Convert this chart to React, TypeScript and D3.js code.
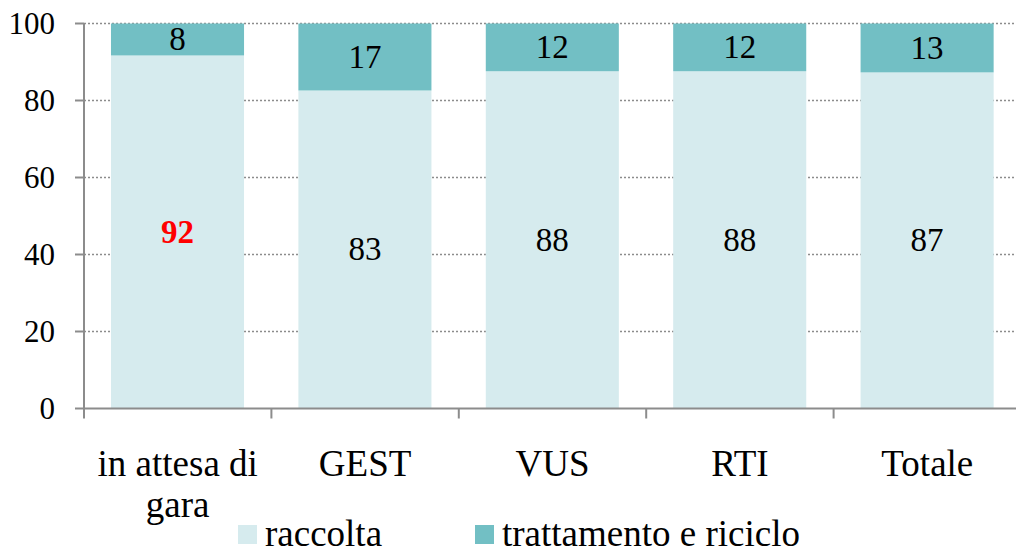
import React from "react";
import * as d3 from "d3";

const categories = ["in attesa di gara", "GEST", "VUS", "RTI", "Totale"];
const categoryLines = [["in attesa di", "gara"], ["GEST"], ["VUS"], ["RTI"], ["Totale"]];
const raccolta = [91.7, 82.6, 87.6, 87.6, 87.3];
const trattamento = [8.3, 17.4, 12.4, 12.4, 12.7];
const yTicks = [0, 20, 40, 60, 80, 100];
const seriesNames = ["raccolta", "trattamento e riciclo"];
const colors = ["#d6ebee", "#72bfc4"];

const W = 1016, H = 550;
const left = 84, right = 1021, top = 23.5, bottom = 408.5;
const FONT = "'Liberation Serif', 'Times New Roman', serif";

export default function App() {
  const x = d3.scaleBand<string>().domain(categories).range([left, right]).paddingInner(0).paddingOuter(0);
  const y = d3.scaleLinear().domain([0, 100]).range([bottom, top]);
  const step = x.step();
  const barOff = step * 0.144;
  const barW = step * 0.71;
  const stacked = categories.map((c, i) => ({ c, r: raccolta[i], t: trattamento[i] }));
  const st = (fs: number) => ({ fontFamily: FONT, fontSize: fs } as React.CSSProperties);
  return (
    <svg width={W} height={H} style={{ position: "absolute", left: 0, top: 0, background: "#fff", fontFamily: FONT }}>
      {yTicks.filter((t) => t > 0).map((t) => (
        <line key={"g" + t} x1={left} x2={right} y1={y(t)} y2={y(t)} stroke="#8c8c8c" strokeWidth={1.5} strokeDasharray="2,2" />
      ))}
      {stacked.map((d, i) => {
        const x0 = (x(d.c) as number) + barOff;
        return (
          <g key={d.c}>
            <rect x={x0} width={barW} y={y(d.r)} height={y(0) - y(d.r)} fill={colors[0]} />
            <rect x={x0} width={barW} y={y(d.r + d.t)} height={y(d.r) - y(d.r + d.t)} fill={colors[1]} />
            <text x={x0 + barW / 2} y={(y(0) + y(d.r)) / 2} textAnchor="middle" dominantBaseline="central" style={st(33)}
              fill={i === 0 ? "#ff0000" : "#000"} fontWeight={i === 0 ? "bold" : "normal"}>{Math.round(d.r)}</text>
            <text x={x0 + barW / 2} y={(y(d.r) + y(d.r + d.t)) / 2} textAnchor="middle" dominantBaseline="central" style={st(33)}
              fill="#000">{Math.round(d.t)}</text>
          </g>
        );
      })}
      <line x1={left} x2={left} y1={top} y2={bottom} stroke="#8c8c8c" strokeWidth={2} />
      <line x1={left} x2={right} y1={bottom} y2={bottom} stroke="#8c8c8c" strokeWidth={2} />
      {yTicks.map((t) => (
        <g key={"t" + t}>
          <line x1={left - 9} x2={left} y1={y(t)} y2={y(t)} stroke="#8c8c8c" strokeWidth={2} />
          <text x={55} y={y(t)} textAnchor="end" dominantBaseline="central" style={st(31)}>{t}</text>
        </g>
      ))}
      {categories.concat([""]).map((c, i) => {
        const xx = left + i * step;
        return <line key={"xt" + i} x1={xx} x2={xx} y1={bottom} y2={bottom + 10} stroke="#8c8c8c" strokeWidth={2} />;
      })}
      {categories.map((c, i) => (
        <text key={"xl" + c} x={(x(c) as number) + step / 2} y={476} textAnchor="middle" style={st(37)}>
          {categoryLines[i].map((l, j) => (
            <tspan key={j} x={(x(c) as number) + step / 2} dy={j === 0 ? 0 : 41}>{l}</tspan>
          ))}
        </text>
      ))}
      {seriesNames.map((s, i) => {
        const lx = i === 0 ? 238 : 475;
        return (
          <g key={s}>
            <rect x={lx} y={525} width={19} height={19} fill={colors[i]} />
            <text x={lx + 27} y={546} style={st(37)}>{s}</text>
          </g>
        );
      })}
    </svg>
  );
}
